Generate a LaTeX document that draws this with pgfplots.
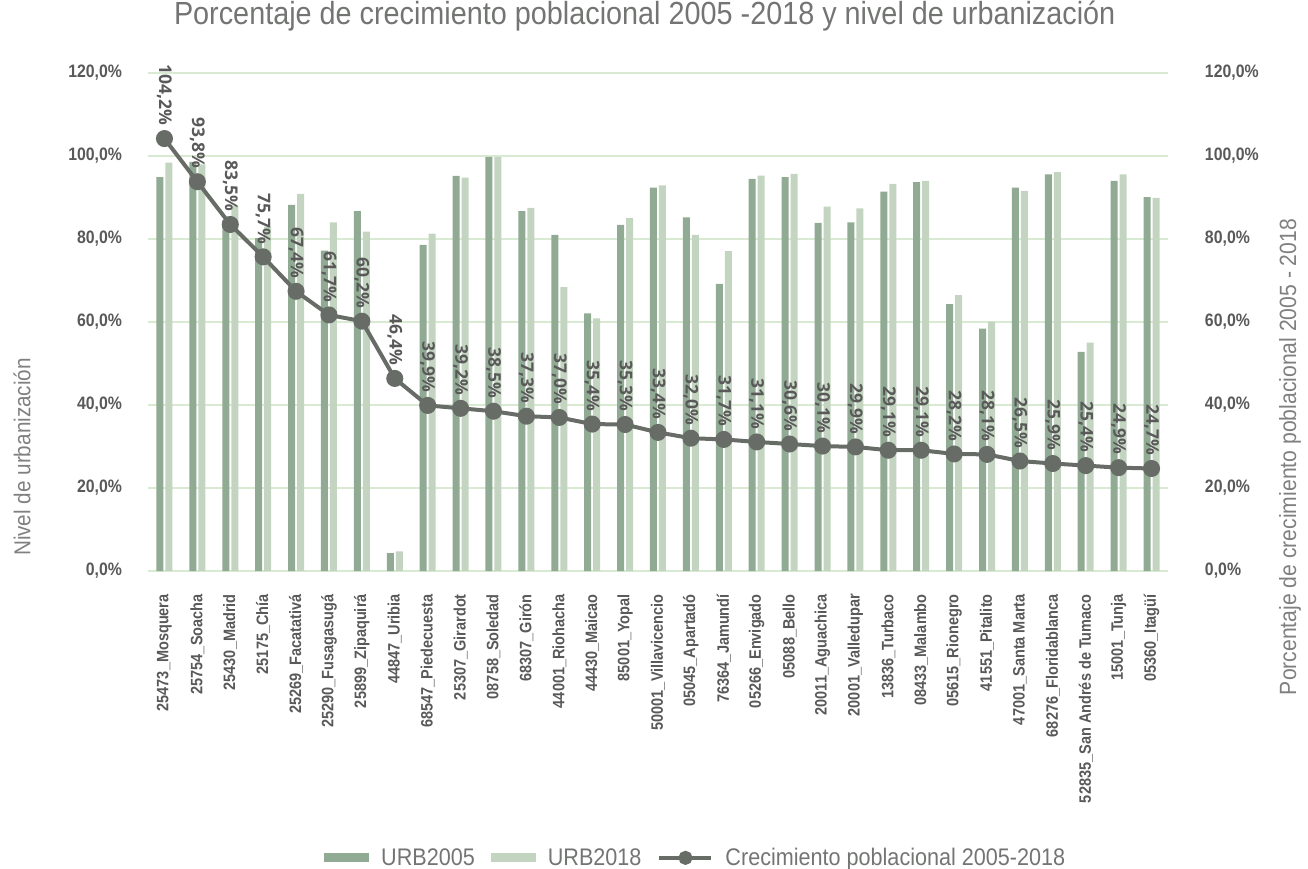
\documentclass[border=0pt]{standalone}
\usepackage{pgfplots}
\pgfplotsset{compat=1.18}
\usepackage{pgfplotstable}
\usepackage{fontspec}
\setmainfont{Liberation Sans}[FakeStretch=0.9]
\newfontfamily\tickfont{Liberation Sans}[FakeStretch=0.88]
\newfontfamily\lblfont{Open Sans}
\definecolor{urbA}{HTML}{91AA94}
\definecolor{urbB}{HTML}{C3D5C0}
\definecolor{gridc}{HTML}{D9EAD3}
\definecolor{linec}{HTML}{676C67}
\definecolor{titlec}{HTML}{737573}
\definecolor{tickc}{HTML}{595959}
\definecolor{labc}{HTML}{7F807F}

\pgfplotstableread{
x u05 u18 crec
0 94.9 98.4 104.2
1 98.6 98.0 93.8
2 84.5 88.0 83.5
3 80.2 83.0 75.7
4 88.2 90.9 67.4
5 77.2 84.0 61.7
6 86.7 81.8 60.2
7 4.3 4.7 46.4
8 78.6 81.3 39.9
9 95.2 94.8 39.2
10 99.8 99.8 38.5
11 86.7 87.5 37.3
12 81.0 68.4 37.0
13 62.1 60.9 35.4
14 83.4 85.0 35.3
15 92.4 92.9 33.4
16 85.2 81.0 32.0
17 69.2 77.1 31.7
18 94.5 95.3 31.1
19 94.9 95.7 30.6
20 83.9 87.8 30.1
21 84.0 87.4 29.9
22 91.4 93.3 29.1
23 93.7 94.0 29.1
24 64.3 66.5 28.2
25 58.4 60.1 28.1
26 92.4 91.6 26.5
27 95.6 96.1 25.9
28 52.8 55.0 25.4
29 94.0 95.6 24.9
30 90.1 89.9 24.7
}\datatable

\pgfplotsset{
  legbar/.style={legend image code/.code={\fill[##1, draw=none] (0pt,-4.5pt) rectangle (45pt,4.5pt);}},
  leglin/.style={legend image code/.code={\draw[mark repeat=2,mark phase=2,##1,mark size=5pt] plot coordinates {(0pt,0pt)(26pt,0pt)(52pt,0pt)};}},
  common/.style={
    scale only axis, width=1020pt, height=498pt,
    at={(0pt,0pt)}, anchor=south west,
    xmin=-0.5, xmax=30.5, ymin=0, ymax=120,
    ytick={0,20,40,60,80,100,120},
    yticklabels={{0,0\%},{20,0\%},{40,0\%},{60,0\%},{80,0\%},{100,0\%},{120,0\%}},
    tick style={draw=none},
    axis line style={draw=none},
    yticklabel style={font=\tickfont\bfseries\fontsize{18}{18}\selectfont, text=tickc, inner sep=0pt},
  },
}

\begin{document}
\begin{tikzpicture}
\useasboundingbox (-148pt,-298pt) rectangle (1160pt,571pt);
\begin{axis}[common,
  axis y line*=left, axis x line*=bottom,
  ymajorgrids, grid style={color=gridc, line width=1.5pt},
  yticklabel style={anchor=east, outer xsep=26pt},
  xtick={0,...,30},
  xticklabels={25473\_Mosquera,25754\_Soacha,25430\_Madrid,25175\_Chía,25269\_Facatativá,25290\_Fusagasugá,25899\_Zipaquirá,44847\_Uribia,68547\_Piedecuesta,25307\_Girardot,08758\_Soledad,68307\_Girón,44001\_Riohacha,44430\_Maicao,85001\_Yopal,50001\_Villavicencio,05045\_Apartadó,76364\_Jamundí,05266\_Envigado,05088\_Bello,20011\_Aguachica,20001\_Valledupar,13836\_Turbaco,08433\_Malambo,05615\_Rionegro,41551\_Pitalito,47001\_Santa Marta,68276\_Floridablanca,52835\_San Andrés de Tumaco,15001\_Tunja,05360\_Itagüí},
  xticklabel style={rotate=90, anchor=east, inner sep=0pt, outer xsep=19pt, font=\tickfont\bfseries\fontsize{16.5}{16.5}\selectfont, text=tickc},
  ybar=2pt, bar width=7pt,
  title={Porcentaje de crecimiento poblacional 2005 -2018 y nivel de urbanización},
  title style={at={(0.487,1.102)}, anchor=center, font=\fontsize{32}{32}\selectfont, text=titlec},
  ylabel={Nivel de urbanización},
  every axis y label/.style={at={(axis description cs:-0.1235,0.229)}, rotate=90, anchor=center, font=\fontsize{23}{23}\selectfont, text=labc},
]
\addplot[fill=urbA, draw=none] table[x=x,y=u05]{\datatable};
\addplot[fill=urbB, draw=none] table[x=x,y=u18]{\datatable};
\end{axis}
\begin{axis}[common,
  axis y line*=right, hide x axis,
  yticklabel style={anchor=west, outer xsep=37pt},
  ylabel={Porcentaje de crecimiento poblacional 2005 - 2018},
  every axis y label/.style={at={(axis description cs:1.1196,0.229)}, rotate=90, anchor=center, font=\fontsize{23.5}{23.5}\selectfont, text=labc},
  legend style={at={(0.537,-0.576)}, anchor=center, draw=none, fill=none, legend columns=-1,
    font=\fontsize{24}{24}\selectfont, text=titlec,
    /tikz/every odd column/.append style={column sep=10pt},
    /tikz/every even column/.append style={column sep=14pt}},
]
\addlegendimage{legbar, fill=urbA, draw=none}
\addlegendentry{URB2005}
\addlegendimage{legbar, fill=urbB, draw=none}
\addlegendentry{URB2018}
\addplot[leglin, color=linec, line width=4pt, mark=*, mark size=6.5pt,
  mark options={fill=linec, draw=linec},
  point meta=y,
  nodes near coords={\pgfmathprintnumber[fixed,fixed zerofill,precision=1,use comma,assume math mode=true]{\pgfplotspointmeta}\%},
  every node near coord/.append style={rotate=-90, anchor=east, inner sep=0pt, outer xsep=13pt, font=\lblfont\bfseries\fontsize{17.5}{17.5}\selectfont, text=tickc},
] table[x=x,y=crec]{\datatable};
\addlegendentry{Crecimiento poblacional 2005-2018}
\end{axis}
\end{tikzpicture}
\end{document}
